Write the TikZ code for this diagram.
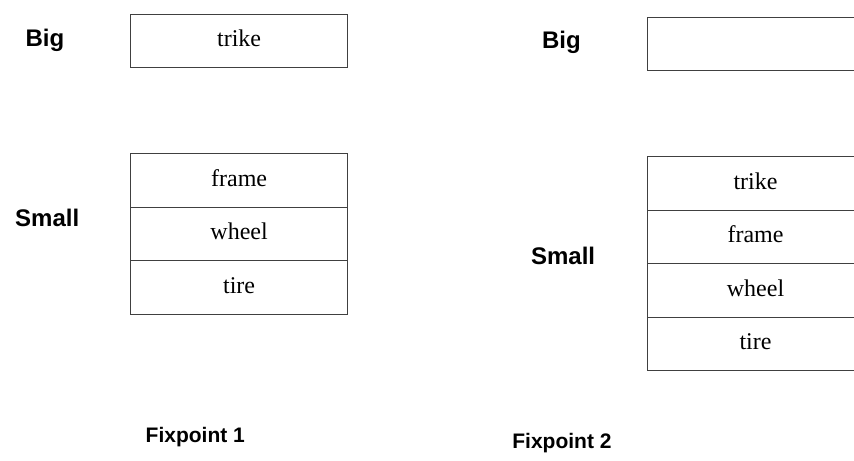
\documentclass[tikz,border=0pt]{standalone}
\usepackage{fontspec}
\setmainfont{Liberation Serif}
\setsansfont{Liberation Sans}
\usepackage{tikz}
\usetikzlibrary{positioning}

\begin{document}
\begin{tikzpicture}[
  lbl/.style={font=\sffamily\bfseries\fontsize{12}{14}\selectfont},
  fixlbl/.style={font=\sffamily\bfseries\fontsize{10.5}{12}\selectfont},
  cell/.style={draw=black!75, line width=0.5pt, minimum width=3.8cm, minimum height=0.94cm,
    inner sep=0pt, outer sep=0pt, text height=1.5ex, text depth=0.25ex,
    font=\fontsize{12}{14}\selectfont}
]
  \useasboundingbox (0,0) rectangle (15.0,8.08);
  \clip (0,0) rectangle (15.0,8.08);
  % fixpoint 1
  \node[lbl] (bigA) at (0.79, 7.38) {Big};
  \node[lbl] (smallA) at (0.83, 4.25) {Small};
  \node[cell] (trikeA) at (4.20, 7.36) {trike};
  \node[cell] (frameA) at (4.20, 4.91) {frame};
  \node[cell, below=0pt of frameA] (wheelA) {wheel};
  \node[cell, below=0pt of wheelA] (tireA) {tire};
  \node[fixlbl] (fixA) at (3.43, 0.40) {Fixpoint 1};
  % fixpoint 2
  \node[lbl] (bigB) at (9.86, 7.34) {Big};
  \node[lbl] (smallB) at (9.89, 3.58) {Small};
  \node[cell] (emptyB) at (13.27, 7.31) {};
  \node[cell] (trikeB) at (13.27, 4.86) {trike};
  \node[cell, below=0pt of trikeB] (frameB) {frame};
  \node[cell, below=0pt of frameB] (wheelB) {wheel};
  \node[cell, below=0pt of wheelB] (tireB) {tire};
  \node[fixlbl] (fixB) at (9.87, 0.30) {Fixpoint 2};
\end{tikzpicture}
\end{document}
